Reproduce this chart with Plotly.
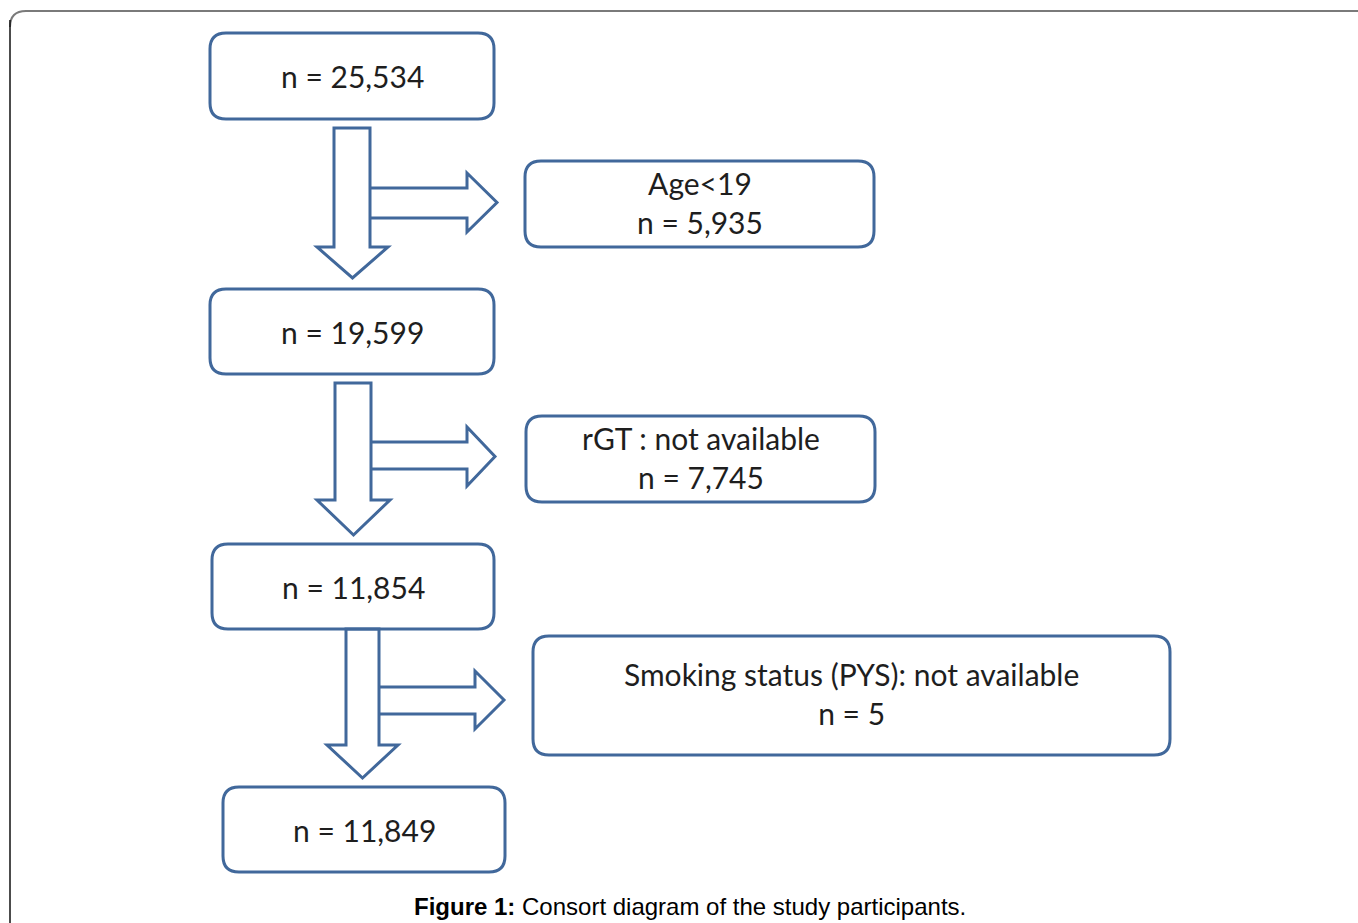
import plotly.graph_objects as go

# ---- data ----
main_counts = [25534, 19599, 11854, 11849]
excluded_labels = ["Age<19", "rGT : not available", "Smoking status (PYS): not available"]
excluded_counts = [5935, 7745, 5]
caption_bold = "Figure 1:"
caption_text = " Consort diagram of the study participants."

# ---- layout (pixel geometry) ----
W, H = 1358, 923
main_boxes = [(210, 33, 494, 119), (210, 289, 494, 374), (212, 544, 494, 629), (223, 787, 505, 872)]
side_boxes = [(525, 161, 874, 247), (526, 416, 875, 502), (533, 636, 1170, 755)]
# arrow params: shaft_l, shaft_r, top, wing_y, wing_l, wing_r, tip_y, br_top, br_bot, head_x, head_top, head_bot, tip_x
arrows = [
    (334, 370, 128, 247, 317, 388, 278, 188, 218, 467, 173, 232, 497),
    (335, 371, 383, 500, 317, 390, 535, 442, 469, 467, 427, 486, 495),
    (346, 379, 629, 745, 327, 398, 778, 687, 714, 475, 671, 729, 504),
]
BLUE = "#41689B"
TXT = "#1e1e1e"
FONT = "Lato, Open Sans, sans-serif"


def rrect(x0, y0, x1, y1, r=16):
    return (f"M {x0+r} {y0} L {x1-r} {y0} Q {x1} {y0} {x1} {y0+r} "
            f"L {x1} {y1-r} Q {x1} {y1} {x1-r} {y1} L {x0+r} {y1} "
            f"Q {x0} {y1} {x0} {y1-r} L {x0} {y0+r} Q {x0} {y0} {x0+r} {y0} Z")


def down_path(a):
    sl, sr, top, wy, wl, wr, ty, bt, bb, hx, ht, hb, tx = a
    cx = (wl + wr) / 2
    pts = [(sl, top), (sr, top), (sr, wy), (wr, wy), (cx, ty), (wl, wy), (sl, wy)]
    return "M " + " L ".join(f"{x} {y}" for x, y in pts) + " Z"


def right_path(a):
    sl, sr, top, wy, wl, wr, ty, bt, bb, hx, ht, hb, tx = a
    pts = [(sr, bt), (hx, bt), (hx, ht), (tx, (ht + hb) / 2), (hx, hb), (hx, bb), (sr, bb)]
    return "M " + " L ".join(f"{x} {y}" for x, y in pts)


fig = go.Figure()
fig.add_trace(go.Scatter(x=[0, W], y=[0, H], mode="markers", marker=dict(opacity=0),
                         hoverinfo="skip", showlegend=False))

shapes = []
# outer frame
shapes.append(dict(type="path", path=f"M {W+5} 11 L 26 11 Q 10 11 10 27",
                   line=dict(color="#7a7a7a", width=2)))
shapes.append(dict(type="path", path=f"M 10 20 L 10 {H+5}", line=dict(color="#111", width=1.5)))

for a in arrows:
    shapes.append(dict(type="path", path=down_path(a), fillcolor="white",
                       line=dict(color=BLUE, width=3)))
    shapes.append(dict(type="path", path=right_path(a), fillcolor="rgba(0,0,0,0)",
                       line=dict(color=BLUE, width=3)))
for b in main_boxes + side_boxes:
    shapes.append(dict(type="path", path=rrect(*b), fillcolor="rgba(0,0,0,0)",
                       line=dict(color=BLUE, width=3)))

annotations = []
for b, n in zip(main_boxes, main_counts):
    annotations.append(dict(x=(b[0] + b[2]) / 2, y=(b[1] + b[3]) / 2, text=f"n = {n:,}",
                            showarrow=False, font=dict(family=FONT, size=30, color=TXT),
                            xanchor="center", yanchor="middle"))
for b, lab, n in zip(side_boxes, excluded_labels, excluded_counts):
    annotations.append(dict(x=(b[0] + b[2]) / 2, y=(b[1] + b[3]) / 2 - 2, text=f"{lab}<br>n = {n:,}",
                            showarrow=False, font=dict(family=FONT, size=30, color=TXT),
                            xanchor="center", yanchor="middle"))
annotations.append(dict(x=690, y=906, text=f"<b>{caption_bold}</b>{caption_text}", showarrow=False,
                        font=dict(family="Liberation Sans, Arial, sans-serif", size=24, color="#000"),
                        xanchor="center", yanchor="middle"))

fig.update_layout(
    width=W, height=H, margin=dict(l=0, r=0, t=0, b=0),
    paper_bgcolor="white", plot_bgcolor="white",
    xaxis=dict(range=[0, W], visible=False, fixedrange=True),
    yaxis=dict(range=[H, 0], visible=False, fixedrange=True),
    shapes=shapes, annotations=annotations, showlegend=False,
)

fig.write_html("out.html", config={"displayModeBar": False},
               post_script="document.body.style.margin='0';document.body.style.overflow='hidden';")
